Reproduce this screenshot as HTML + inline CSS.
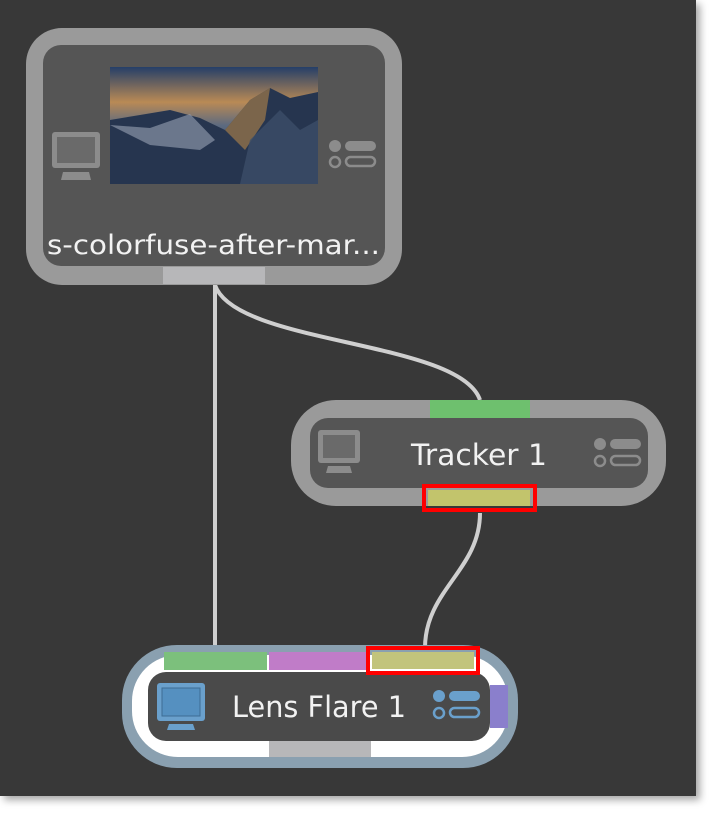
<!DOCTYPE html>
<html><head><style>
html,body{margin:0;padding:0;background:#fff;width:716px;height:818px;overflow:hidden}
svg{display:block}
text{font-family:"DejaVu Sans","Liberation Sans",sans-serif;fill:#f2f2f2}
</style></head><body>
<svg width="716" height="818" viewBox="0 0 716 818">
<defs>
<filter id="sh" x="-5%" y="-5%" width="115%" height="115%"><feDropShadow dx="4" dy="4" stdDeviation="4" flood-color="#000" flood-opacity="0.35"/></filter>
<linearGradient id="sky" x1="0" y1="0" x2="0" y2="1">
<stop offset="0" stop-color="#253f68"/><stop offset="0.3" stop-color="#b98a55"/><stop offset="0.5" stop-color="#5c6a80"/><stop offset="1" stop-color="#1a2a40"/></linearGradient>
</defs>
<rect x="0" y="0" width="696" height="796" fill="#383838" filter="url(#sh)"/>
<g stroke="#cfcfcf" stroke-width="4" fill="none">
<path d="M215 285 L215 648"/>
<path d="M215 285 C235 345 460 340 480 400"/>
<path d="M480 513 C480 570 425 590 425 648"/>
</g>
<rect x="26" y="28" width="376" height="257" rx="36" fill="#9a9a9a"/>
<rect x="43" y="45" width="342" height="221" rx="18" fill="#555"/>
<rect x="163" y="267" width="102" height="17" fill="#b7b7b9"/>
<rect x="110" y="67" width="208" height="117" fill="url(#sky)"/>
<path d="M110 120 L140 115 L170 110 L200 118 L225 130 L250 100 L270 88 L290 98 L318 92 L318 184 L110 184Z" fill="#26354f"/>
<path d="M225 130 L250 100 L270 88 L265 120 L245 150Z" fill="#a07a4a" opacity="0.7"/>
<path d="M110 125 L150 128 L190 114 L215 140 L200 150 L150 145Z" fill="#9aa4b6" opacity="0.6"/>
<path d="M250 140 L280 110 L300 130 L318 120 L318 184 L240 184Z" fill="#3c4d68" opacity="0.8"/>
<g fill="#8c8c8c">
<rect x="52" y="132" width="48" height="36" rx="3"/><rect x="57" y="137" width="38" height="26" fill="#6a6a6a"/>
<path d="M63 172 L89 172 L91 180 L61 180Z"/>
<circle cx="335" cy="146" r="6"/><rect x="345" y="141" width="31" height="10" rx="5"/>
<circle cx="335" cy="162" r="5" fill="none" stroke="#8c8c8c" stroke-width="2.5"/><rect x="346" y="157" width="29" height="9" rx="4.5" fill="none" stroke="#8c8c8c" stroke-width="2.5"/>
</g>
<text x="47" y="254" font-size="27" textLength="333" lengthAdjust="spacingAndGlyphs">s-colorfuse-after-mar...</text>
<rect x="291" y="400" width="375" height="106" rx="45" fill="#9a9a9a"/>
<rect x="310" y="418" width="338" height="70" rx="18" fill="#555"/>
<rect x="430" y="400" width="100" height="18" fill="#6ec06e"/>
<rect x="424" y="486" width="111" height="24" fill="none" stroke="#f00" stroke-width="4"/>
<rect x="428" y="490" width="102" height="16" fill="#c2c46c"/>
<g fill="#8c8c8c">
<rect x="318" y="430" width="42" height="33" rx="3"/><rect x="323" y="435" width="32" height="23" fill="#6a6a6a"/>
<path d="M328 466 L350 466 L352 473 L326 473Z"/>
<circle cx="600" cy="444" r="6"/><rect x="610" y="439" width="31" height="10" rx="5"/>
<circle cx="600" cy="461" r="5" fill="none" stroke="#8c8c8c" stroke-width="2.5"/><rect x="611" y="456" width="29" height="9" rx="4.5" fill="none" stroke="#8c8c8c" stroke-width="2.5"/>
</g>
<text x="411" y="465" font-size="29" textLength="136" lengthAdjust="spacingAndGlyphs">Tracker 1</text>
<rect x="122" y="645" width="396" height="123" rx="55" fill="#8aa0b0"/>
<rect x="132" y="655" width="376" height="102" rx="46" fill="#fff"/>
<rect x="148" y="672" width="342" height="69" rx="18" fill="#4a4a4a"/>
<rect x="164" y="652" width="103" height="18" fill="#7cc07c"/>
<rect x="269" y="652" width="97" height="18" fill="#c07cc8"/>
<rect x="368" y="648" width="110" height="25" fill="none" stroke="#f00" stroke-width="4"/>
<rect x="372" y="652" width="102" height="17" fill="#c2c47c"/>
<rect x="269" y="741" width="102" height="16" fill="#b7b7b9"/>
<rect x="490" y="685" width="18" height="43" fill="#8a7fcc"/>
<g fill="#6aa0cc">
<rect x="157" y="683" width="48" height="38" rx="3"/><rect x="162" y="688" width="38" height="28" fill="#5590c0" stroke="#3d6d94" stroke-width="1"/>
<path d="M169 724 L193 724 L195 730 L167 730Z"/>
<circle cx="439" cy="696" r="6"/><rect x="449" y="691" width="31" height="10" rx="5"/>
<circle cx="439" cy="713" r="5" fill="none" stroke="#6aa0cc" stroke-width="2.5"/><rect x="450" y="708" width="29" height="9" rx="4.5" fill="none" stroke="#6aa0cc" stroke-width="2.5"/>
</g>
<text x="232" y="717" font-size="29" textLength="174" lengthAdjust="spacingAndGlyphs">Lens Flare 1</text>
</svg>
</body></html>
